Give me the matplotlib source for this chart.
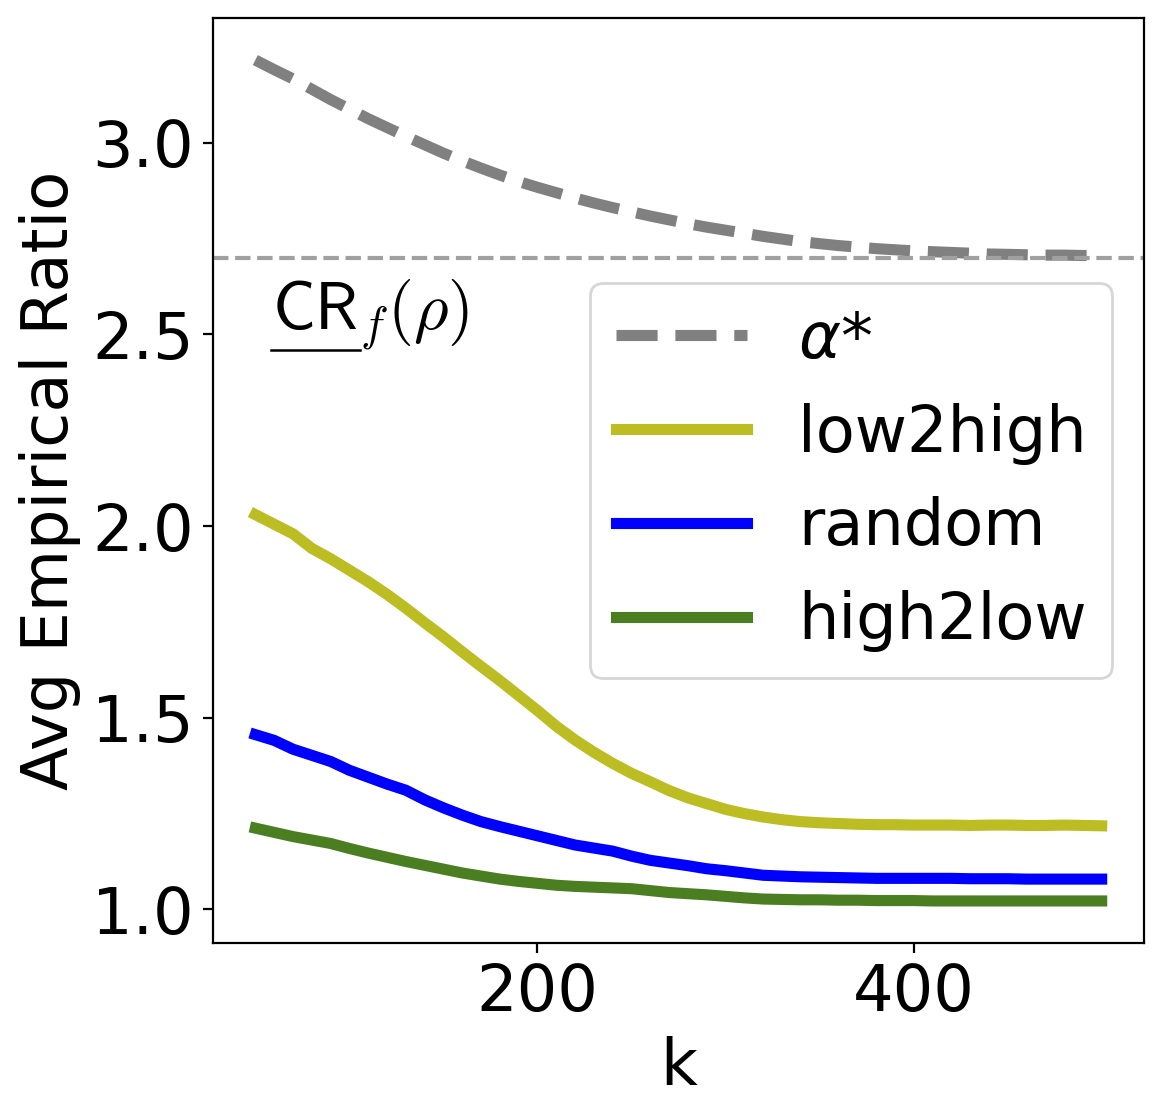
import matplotlib
matplotlib.use("Agg")
import matplotlib.pyplot as plt
from matplotlib.lines import Line2D

k = list(range(50, 501, 10))
alpha_star = [3.216, 3.191, 3.167, 3.140, 3.113, 3.088, 3.063, 3.040, 3.017, 2.995,
              2.973, 2.953, 2.934, 2.916, 2.899, 2.884, 2.870, 2.856, 2.843, 2.831,
              2.820, 2.809, 2.799, 2.789, 2.780, 2.772, 2.764, 2.756, 2.749, 2.742,
              2.737, 2.732, 2.728, 2.724, 2.721, 2.718, 2.716, 2.714, 2.712, 2.710,
              2.709, 2.708, 2.707, 2.707, 2.706, 2.706]
low2high = [2.030, 2.005, 1.980, 1.942, 1.915, 1.885, 1.855, 1.822, 1.786, 1.748,
            1.711, 1.672, 1.634, 1.597, 1.558, 1.519, 1.478, 1.442, 1.410, 1.381,
            1.355, 1.333, 1.310, 1.291, 1.276, 1.261, 1.250, 1.241, 1.234, 1.229,
            1.226, 1.224, 1.222, 1.221, 1.221, 1.220, 1.220, 1.220, 1.219, 1.220,
            1.220, 1.219, 1.219, 1.220, 1.219, 1.218]
random_ = [1.456, 1.441, 1.418, 1.402, 1.386, 1.363, 1.345, 1.327, 1.311, 1.286,
           1.265, 1.246, 1.229, 1.216, 1.204, 1.192, 1.180, 1.168, 1.160, 1.152,
           1.139, 1.128, 1.121, 1.114, 1.106, 1.101, 1.095, 1.089, 1.087, 1.085,
           1.084, 1.083, 1.082, 1.081, 1.081, 1.081, 1.081, 1.081, 1.080, 1.080,
           1.080, 1.079, 1.079, 1.079, 1.079, 1.079]
high2low = [1.212, 1.201, 1.190, 1.181, 1.172, 1.159, 1.147, 1.136, 1.125, 1.115,
            1.105, 1.095, 1.087, 1.079, 1.073, 1.068, 1.063, 1.060, 1.058, 1.056,
            1.054, 1.049, 1.044, 1.041, 1.038, 1.034, 1.030, 1.027, 1.026, 1.025,
            1.025, 1.024, 1.024, 1.023, 1.023, 1.023, 1.022, 1.022, 1.022, 1.022,
            1.022, 1.022, 1.022, 1.022, 1.022, 1.022]
cr_bound = 2.7

DPI = 200
fig = plt.figure(figsize=(1163 / DPI, 1119 / DPI), dpi=DPI)
ax = fig.add_axes([213 / 1163, 1 - 943 / 1119, (1144 - 213) / 1163, (943 - 18) / 1119])

ax.plot(k, alpha_star, color="#808080", lw=4, ls="--", label=r"$\alpha$*")
ax.plot(k, low2high, color="#bcbd22", lw=4, label="low2high")
ax.plot(k, random_, color="#0000ff", lw=4, label="random")
ax.plot(k, high2low, color="#4a7e20", lw=4, label="high2low")
ax.axhline(cr_bound, color="#a0a0a0", lw=1.5, ls="--")

tx, ty = 59, 2.515
ax.text(tx, ty, r"$\mathsf{CR}_f(\rho)$", fontsize=24, math_fontfamily="cm",
        ha="left", va="baseline")
t_cr = ax.text(tx, ty, r"$\mathsf{CR}$", fontsize=24, math_fontfamily="cm",
               ha="left", va="baseline", alpha=0)

ax.set_xticks([200, 400])
ax.set_yticks([1.0, 1.5, 2.0, 2.5, 3.0])
ax.tick_params(labelsize=23)
ax.set_xlabel("k", fontsize=23)
ax.set_ylabel("Avg Empirical Ratio", fontsize=23)
ax.legend(loc="center right", fontsize=23, handlelength=2.05)

fig.canvas.draw()
bb = t_cr.get_window_extent(fig.canvas.get_renderer())
t_cr.remove()
inv = fig.transFigure.inverted()
(x0, y0) = inv.transform((bb.x0 - 1, bb.y0 - 7))
(x1, _) = inv.transform((bb.x1 + 2, bb.y0 - 7))
fig.add_artist(Line2D([x0, x1], [y0, y0], transform=fig.transFigure, color="black", lw=0.9))

fig.savefig("out.png", dpi=DPI)
